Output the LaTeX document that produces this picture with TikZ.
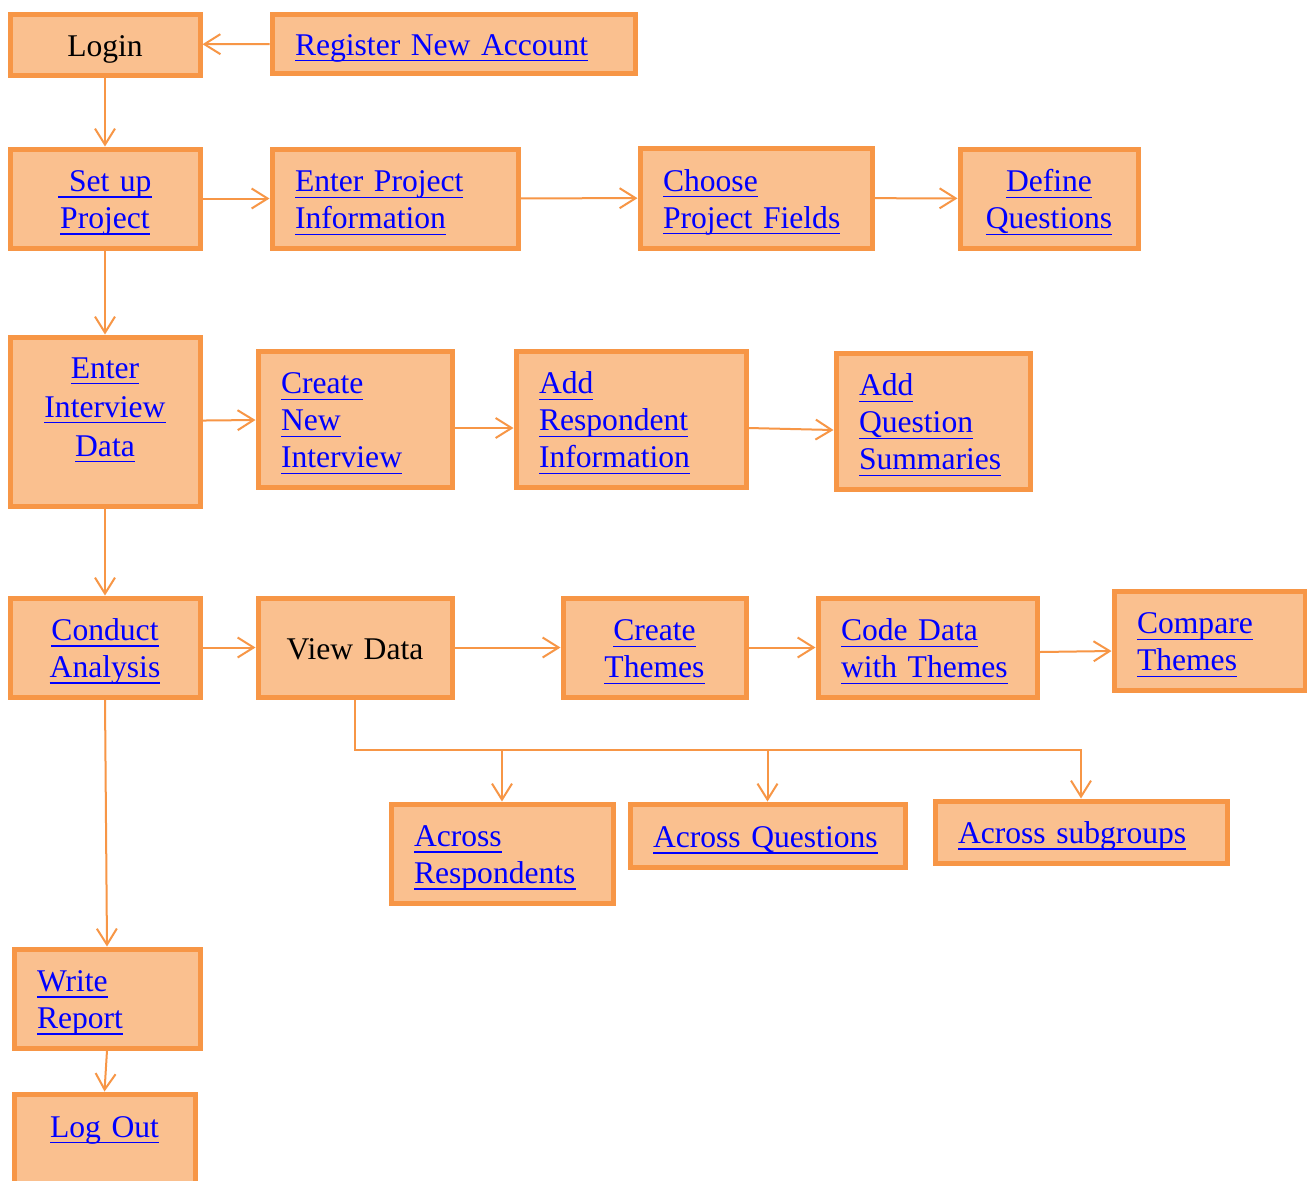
\documentclass[tikz,border=0pt]{standalone}
\usepackage{fontspec}
\setmainfont{Liberation Serif}
\usetikzlibrary{arrows.meta}
\definecolor{boxfill}{HTML}{FAC08F}
\definecolor{boxline}{HTML}{F79646}
% blue underlined link text
\newcommand{\lnk}[1]{\textcolor{blue}{\setbox0\hbox{#1}\rlap{\vrule width\wd0 height -2.3pt depth 3.1pt}\box0}}

\begin{document}
\begin{tikzpicture}[x=0.5pt,y=-0.5pt,->,>={Straight Barb[length=8pt,width=10pt]},
    flow box/.style={draw=boxline,fill=boxfill,line width=2.5pt,inner ysep=2pt,
        font=\fontsize{15.8}{18.5}\selectfont,execute at begin node={\rule{0pt}{15pt}}},
    left box/.style 2 args={flow box,minimum width=#1,minimum height=#2,inner xsep=11.5pt,
        text width=#1-23pt,align=left},
    mid box/.style 2 args={flow box,minimum width=#1,minimum height=#2,inner xsep=2pt,
        text width=#1-4pt,align=center},
    link/.style={draw=boxline,line width=1pt}]
    \path[use as bounding box,fill=white] (0,0) rectangle (1307,1180);

    \node[mid box={95pt}{30.5pt}] (login) at (105,44.5) {Login};
    \node[left box={181.5pt}{29.5pt}] (reg) at (453.5,43.5) {\lnk{Register New Account}};

    \node[mid box={95pt}{49.5pt}] (setup) at (105,198.5) {\lnk{\ Set up}\\\lnk{Project}};
    \node[left box={123pt}{49.5pt}] (pinfo) at (395,198.5) {\lnk{Enter Project}\\\lnk{Information}};
    \node[left box={116pt}{50pt}] (fields) at (756,198) {\lnk{Choose}\\\lnk{Project Fields}};
    \node[mid box={89pt}{49.5pt}] (define) at (1049,198.5) {\lnk{Define}\\\lnk{Questions}};

    \node[mid box={95pt}{84.5pt}] (enter) at (105,421.5) {\lnk{Enter}\\[1pt]\lnk{Interview}\\[1pt]\lnk{Data}\\[1pt]\mbox{}};
    \node[left box={97pt}{68pt}] (newint) at (355,419) {\lnk{Create}\\\lnk{New}\\\lnk{Interview}};
    \node[left box={115pt}{68pt}] (rinfo) at (631,419) {\lnk{Add}\\\lnk{Respondent}\\\lnk{Information}};
    \node[left box={97pt}{68pt}] (qsum) at (933,421) {\lnk{Add}\\\lnk{Question}\\\lnk{Summaries}};

    \node[mid box={95pt}{49.5pt}] (conduct) at (105,647.5) {\lnk{Conduct}\\\lnk{Analysis}};
    \node[mid box={97pt}{49.5pt}] (view) at (355,647.5) {View Data\rule[-3.4pt]{0pt}{0pt}};
    \node[mid box={91.5pt}{49.5pt}] (themes) at (654.5,647.5) {\lnk{Create}\\\lnk{Themes}};
    \node[left box={109.5pt}{49.5pt}] (code) at (927.5,647.5) {\lnk{Code Data}\\\lnk{with Themes}};
    \node[left box={95.5pt}{49.5pt}] (compare) at (1209.5,640.5) {\lnk{Compare}\\\lnk{Themes}};

    \node[left box={111pt}{49.5pt}] (aresp) at (502,853.5) {\lnk{Across}\\\lnk{Respondents}};
    \node[left box={137.5pt}{31.5pt}] (aquest) at (767.5,835.5) {\lnk{Across Questions}};
    \node[left box={146pt}{31pt}] (asub) at (1081,832) {\lnk{Across subgroups}};

    \node[left box={93pt}{49.5pt}] (report) at (107,998.5) {\lnk{Write}\\\lnk{Report}};
    \node[mid box={90.5pt}{63pt}] (logout) at (104.5,1157) {\lnk{Log Out}\\[16.5pt]\mbox{}};

    \coordinate (bus) at (767.5,750);

    \path[every edge/.style={link}]
        (reg) edge (login)
        (login) edge (setup)
        (setup) edge (pinfo)
        (pinfo) edge (fields)
        (fields) edge (define)
        (setup) edge (enter)
        (enter) edge (newint)
        ([yshift=-4.5pt]newint.east) edge ([yshift=-4.5pt]rinfo.west)
        ([yshift=-4.5pt]rinfo.east) edge ([yshift=-4.5pt]qsum.west)
        (enter) edge (conduct)
        (conduct) edge (view)
        (view) edge (themes)
        (themes) edge (code)
        ([yshift=-2.25pt]code.east) edge ([yshift=-5.25pt]compare.west)
        (conduct.south) edge (report.north)
        (report.south) edge (logout.north);
    \draw[link,-] (view.south) |- (bus);
    \draw[link] (bus) -- (aquest.north);
    \draw[link] (bus) -| (asub.north);
    \draw[link] (aresp.north |- bus) -- (aresp.north);
\end{tikzpicture}
\end{document}
